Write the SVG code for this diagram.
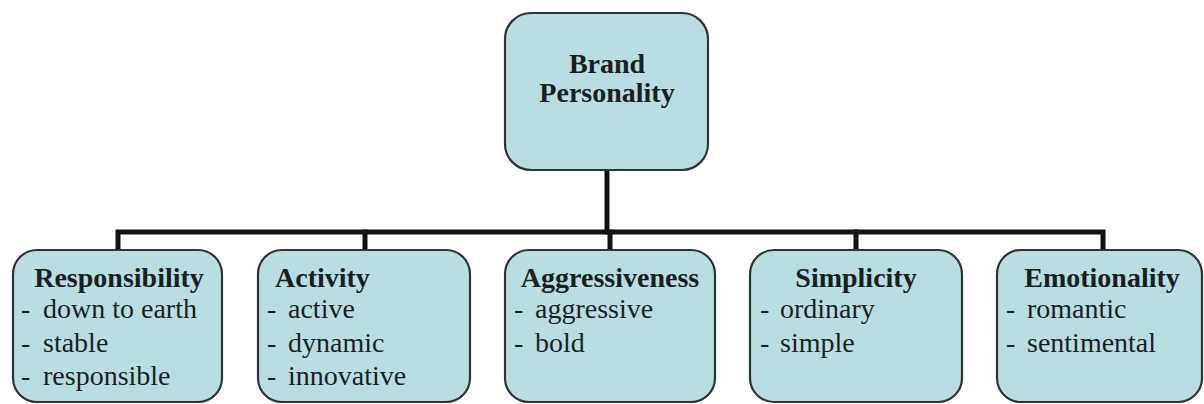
<svg xmlns="http://www.w3.org/2000/svg" width="1204" height="404" viewBox="0 0 1204 404">
  <style>
    .box { fill: #b9dde1; stroke: #2e3436; stroke-width: 2.2; }
    .wire { fill: none; stroke: #111; stroke-width: 5; stroke-linecap: square; stroke-linejoin: miter; }
  </style>

  <!-- tree connectors -->
  <g id="connectors">
    <path class="wire" d="M607 171 V232"/>
    <path class="wire" d="M118 249 V232 H1103 V249"/>
    <path class="wire" d="M365 232 V249"/>
    <path class="wire" d="M610 232 V249"/>
    <path class="wire" d="M856 232 V249"/>
  </g>

  <!-- root -->
  <g id="brand-personality">
    <rect class="box" x="505" y="13" width="203" height="157" rx="26"/>
    <text x="607" y="73" text-anchor="middle" font-size="28" font-weight="bold" fill="#1a1f22" style="font-family:'Liberation Serif',serif">Brand</text>
    <text x="607" y="102" text-anchor="middle" font-size="28" font-weight="bold" fill="#1a1f22" style="font-family:'Liberation Serif',serif">Personality</text>
  </g>

  <g id="responsibility">
    <rect class="box" x="13" y="250" width="209" height="152" rx="24"/>
    <text x="119" y="287" text-anchor="middle" font-size="28" font-weight="bold" fill="#1a1f22" style="font-family:'Liberation Serif',serif">Responsibility</text>
    <text x="21" y="318" font-size="28" fill="#1a1f22" style="font-family:'Liberation Serif',serif">-</text>
    <text x="43" y="318" font-size="28" fill="#1a1f22" style="font-family:'Liberation Serif',serif">down to earth</text>
    <text x="21" y="352" font-size="28" fill="#1a1f22" style="font-family:'Liberation Serif',serif">-</text>
    <text x="43" y="352" font-size="28" fill="#1a1f22" style="font-family:'Liberation Serif',serif">stable</text>
    <text x="21" y="385" font-size="28" fill="#1a1f22" style="font-family:'Liberation Serif',serif">-</text>
    <text x="43" y="385" font-size="28" fill="#1a1f22" style="font-family:'Liberation Serif',serif">responsible</text>
  </g>

  <g id="activity">
    <rect class="box" x="258" y="250" width="212" height="152" rx="24"/>
    <text x="275" y="287" font-size="28" font-weight="bold" fill="#1a1f22" style="font-family:'Liberation Serif',serif">Activity</text>
    <text x="267" y="318" font-size="28" fill="#1a1f22" style="font-family:'Liberation Serif',serif">-</text>
    <text x="288" y="318" font-size="28" fill="#1a1f22" style="font-family:'Liberation Serif',serif">active</text>
    <text x="267" y="352" font-size="28" fill="#1a1f22" style="font-family:'Liberation Serif',serif">-</text>
    <text x="288" y="352" font-size="28" fill="#1a1f22" style="font-family:'Liberation Serif',serif">dynamic</text>
    <text x="267" y="385" font-size="28" fill="#1a1f22" style="font-family:'Liberation Serif',serif">-</text>
    <text x="288" y="385" font-size="28" fill="#1a1f22" style="font-family:'Liberation Serif',serif">innovative</text>
  </g>

  <g id="aggressiveness">
    <rect class="box" x="505" y="250" width="210" height="152" rx="24"/>
    <text x="610" y="287" text-anchor="middle" font-size="28" font-weight="bold" fill="#1a1f22" style="font-family:'Liberation Serif',serif">Aggressiveness</text>
    <text x="514" y="318" font-size="28" fill="#1a1f22" style="font-family:'Liberation Serif',serif">-</text>
    <text x="535" y="318" font-size="28" fill="#1a1f22" style="font-family:'Liberation Serif',serif">aggressive</text>
    <text x="514" y="352" font-size="28" fill="#1a1f22" style="font-family:'Liberation Serif',serif">-</text>
    <text x="535" y="352" font-size="28" fill="#1a1f22" style="font-family:'Liberation Serif',serif">bold</text>
  </g>

  <g id="simplicity">
    <rect class="box" x="750" y="250" width="212" height="152" rx="24"/>
    <text x="856" y="287" text-anchor="middle" font-size="28" font-weight="bold" fill="#1a1f22" style="font-family:'Liberation Serif',serif">Simplicity</text>
    <text x="760" y="318" font-size="28" fill="#1a1f22" style="font-family:'Liberation Serif',serif">-</text>
    <text x="780" y="318" font-size="28" fill="#1a1f22" style="font-family:'Liberation Serif',serif">ordinary</text>
    <text x="760" y="352" font-size="28" fill="#1a1f22" style="font-family:'Liberation Serif',serif">-</text>
    <text x="780" y="352" font-size="28" fill="#1a1f22" style="font-family:'Liberation Serif',serif">simple</text>
  </g>

  <g id="emotionality">
    <rect class="box" x="997" y="250" width="205" height="152" rx="24"/>
    <text x="1102" y="287" text-anchor="middle" font-size="28" font-weight="bold" fill="#1a1f22" style="font-family:'Liberation Serif',serif">Emotionality</text>
    <text x="1006" y="318" font-size="28" fill="#1a1f22" style="font-family:'Liberation Serif',serif">-</text>
    <text x="1027" y="318" font-size="28" fill="#1a1f22" style="font-family:'Liberation Serif',serif">romantic</text>
    <text x="1006" y="352" font-size="28" fill="#1a1f22" style="font-family:'Liberation Serif',serif">-</text>
    <text x="1027" y="352" font-size="28" fill="#1a1f22" style="font-family:'Liberation Serif',serif">sentimental</text>
  </g>
</svg>
